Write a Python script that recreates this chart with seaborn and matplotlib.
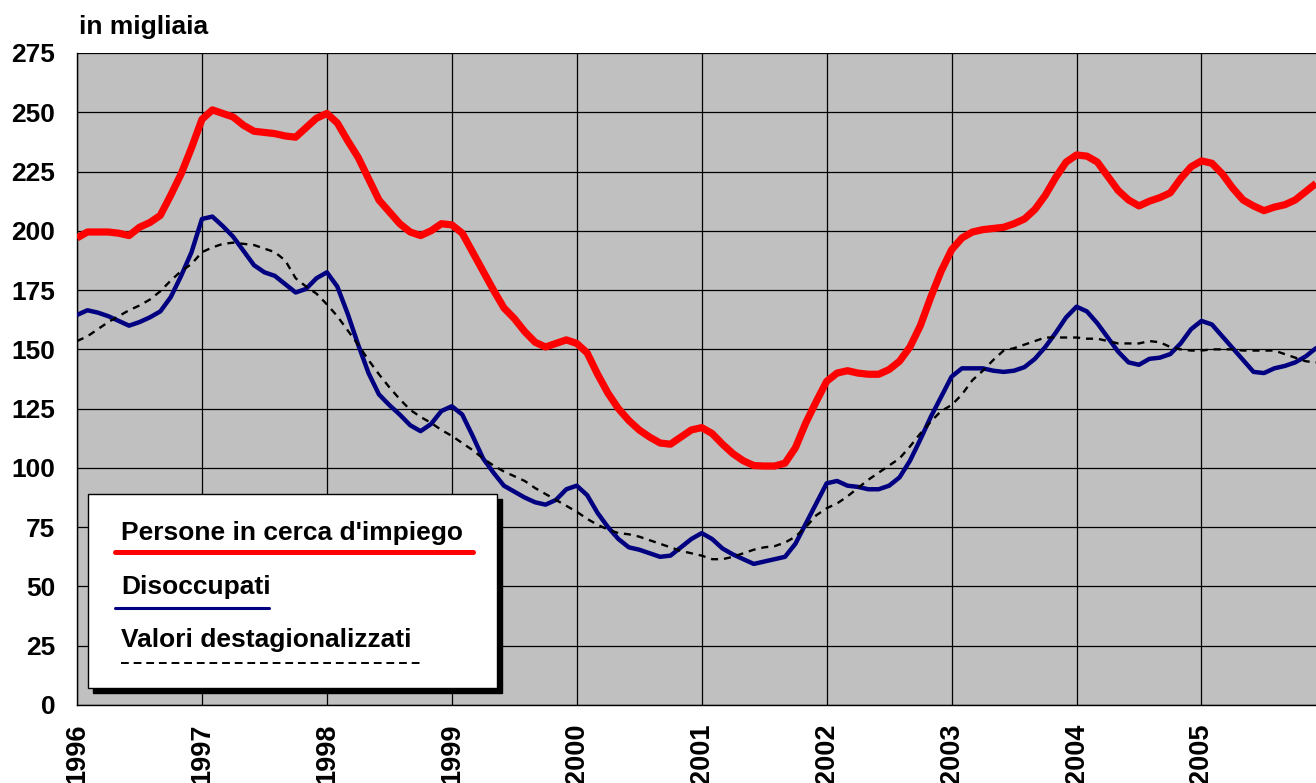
import numpy as np
import pandas as pd
import matplotlib
matplotlib.use("Agg")
import matplotlib.pyplot as plt
import seaborn as sns
from matplotlib.patches import Rectangle
from matplotlib.lines import Line2D

# ---------------- data (monthly, Jan 1996 - Dec 2005, thousands) ----------------
years = [1996, 1997, 1998, 1999, 2000, 2001, 2002, 2003, 2004, 2005]

persone = [
    197, 199.5, 199.5, 199.5, 199, 198, 201.5, 203.5, 206.5, 215, 224, 235,
    247, 251, 249.5, 248, 244.5, 242, 241.5, 241, 240, 239.5, 243.5, 247.5,
    249.5, 245.5, 238, 231, 222, 213, 208, 203, 199.5, 198, 200, 203,
    202.5, 199, 191, 183, 175, 167.5, 163, 157.5, 153, 151, 152.5, 154,
    152.5, 148.5, 139.5, 131.5, 125, 120, 116, 113, 110.5, 110, 113, 116,
    117, 114.5, 110, 106, 103, 101, 100.8, 100.8, 102, 108.5, 119, 128,
    136.5, 140, 141, 140, 139.5, 139.5, 141.5, 145, 151, 160, 172, 183,
    192, 197, 199.5, 200.5, 201, 201.5, 203, 205, 209, 215, 222.5, 229,
    232, 231.5, 229, 223, 217, 213, 210.5, 212.5, 214, 216, 222, 227,
    229.5, 228.5, 224, 218, 213, 210.5, 208.5, 210, 211, 213, 216.5, 220,
]

disoccupati = [
    164.5, 166.5, 165.5, 164, 162, 160, 161.5, 163.5, 166, 172, 181, 191,
    205, 206, 202, 197.5, 191.5, 185.5, 182.5, 181, 177.5, 174, 175.5, 180,
    182.5, 176.5, 165, 152, 140, 131, 126.5, 122.5, 118, 115.5, 118.5, 124,
    126, 122.5, 113.5, 104, 98, 92.5, 90, 87.5, 85.5, 84.5, 86.5, 91,
    92.5, 88.5, 81, 75, 70, 66.5, 65.5, 64, 62.5, 63, 66.5, 70,
    72.5, 70, 66, 63.5, 61.5, 59.5, 60.5, 61.5, 62.5, 68, 76.5, 85,
    93.5, 94.5, 92.5, 92, 91, 91, 92.5, 96, 103, 112, 121.5, 130,
    138.5, 142, 142, 142, 141, 140.5, 141, 142.5, 146, 151, 157, 163.5,
    168, 166, 161, 155, 149, 144.5, 143.5, 146, 146.5, 148, 152.5, 158.5,
    162, 160.5, 155.5, 150.5, 145.5, 140.5, 140, 142, 143, 144.5, 147, 150.5,
]

destagionalizzati = [
    153.5, 155.5, 158.5, 161.5, 164, 166.5, 168.5, 171, 174.5, 179, 183, 186,
    191, 193, 194.5, 195, 194.5, 194, 192.5, 191, 187.5, 180, 176.5, 173.5,
    169, 164, 158, 152, 145.5, 139.5, 134, 129, 124.5, 121.5, 119, 116,
    113.5, 110.5, 107.5, 104, 101, 98.5, 96.5, 94.5, 91.5, 89, 86.5, 84,
    81.5, 78.5, 76, 74, 72.5, 72, 71, 69.5, 68, 66.5, 65, 64,
    63, 61.5, 61.5, 62.5, 64, 65.5, 66.5, 67, 68.5, 71, 75, 80,
    83, 85, 88, 91.5, 95, 98, 101, 104, 109, 114.5, 119.5, 124,
    126.5, 131, 137, 141, 145.5, 149.5, 150.5, 152, 153.5, 155, 155, 155,
    155, 154.5, 154.5, 153.5, 152.5, 152.5, 152.5, 153.5, 153, 151, 150, 149.5,
    149.5, 150, 150, 150, 149.5, 149.5, 149.5, 149.5, 148, 146.5, 145, 144.5,
]

labels = ["Persone in cerca d'impiego", "Disoccupati", "Valori destagionalizzati"]
y_ticks = list(range(0, 276, 25))

# ---------------- figure ----------------
sns.set_style("white")
plt.rcParams['font.family'] = ['Liberation Sans', 'DejaVu Sans']
plt.rcParams['font.weight'] = 'bold'
plt.rcParams['text.color'] = 'black'
plt.rcParams['xtick.color'] = 'black'
plt.rcParams['ytick.color'] = 'black'

W, H = 1316, 783
fig = plt.figure(figsize=(W / 100, H / 100), dpi=100)


def fx(x):
    return x / W


def fy(y):
    return 1 - y / H


ax = fig.add_axes([fx(77), fy(705), fx(W) - fx(77), fy(53) - fy(705)])
ax.set_facecolor('#C0C0C0')

df = pd.DataFrame({
    'mese': np.arange(len(persone)),
    'persone': persone,
    'disoccupati': disoccupati,
    'destag': destagionalizzati,
})

sns.lineplot(data=df, x='mese', y='persone', ax=ax, color='#FF0000', lw=5.2,
             solid_joinstyle='round', solid_capstyle='butt', zorder=3)
sns.lineplot(data=df, x='mese', y='disoccupati', ax=ax, color='#000080', lw=3.2,
             solid_joinstyle='round', zorder=4)
sns.lineplot(data=df, x='mese', y='destag', ax=ax, color='black', lw=1.7,
             linestyle=(0, (3, 2.5)), zorder=5)

ax.set_xlim(0, len(persone) - 1)
ax.set_ylim(0, 275)
ax.set_xticks([12 * i for i in range(len(years))])
ax.set_xticklabels([str(y) for y in years], rotation=90, fontsize=19.5,
                   fontweight='bold', va='top', color='black')
ax.set_yticks(y_ticks)
ax.set_yticklabels([str(v) for v in y_ticks], fontsize=19, fontweight='bold',
                   color='black')
ax.set_xlabel('')
ax.set_ylabel('')

ax.grid(True, color='black', lw=0.9)
ax.set_axisbelow(True)
for s in ['top', 'right']:
    ax.spines[s].set_visible(False)
for s in ['left', 'bottom']:
    ax.spines[s].set_color('black')
    ax.spines[s].set_linewidth(1.0)
ax.tick_params(axis='both', direction='out', length=6.5, width=1, color='black',
               labelcolor='black')
ax.tick_params(axis='y', pad=9)
ax.tick_params(axis='x', pad=7)

fig.text(fx(79), fy(34), 'in migliaia', fontsize=19, fontweight='bold',
         ha='left', va='baseline', color='black')

# ---------------- legend box (drawn manually, as in the original) ----------------
bx0, by0, bx1, by1 = 88, 494, 497, 688
fig.add_artist(Rectangle((fx(bx0 + 5), fy(by1 + 5)), fx(bx1 - bx0), fy(by0) - fy(by1),
                         transform=fig.transFigure, facecolor='black',
                         edgecolor='black', zorder=10))
fig.add_artist(Rectangle((fx(bx0), fy(by1)), fx(bx1 - bx0), fy(by0) - fy(by1),
                         transform=fig.transFigure, facecolor='white',
                         edgecolor='black', lw=1, zorder=11))

fig.text(fx(121), fy(540), labels[0], fontsize=19, fontweight='bold',
         ha='left', va='baseline', zorder=12, color='black')
fig.add_artist(Line2D([fx(115), fx(473)], [fy(552), fy(552)], color='#FF0000',
                      lw=3.6, transform=fig.transFigure, zorder=12))
fig.text(fx(121), fy(594), labels[1], fontsize=19, fontweight='bold',
         ha='left', va='baseline', zorder=12, color='black')
fig.add_artist(Line2D([fx(115), fx(269)], [fy(608), fy(608)], color='#000080',
                      lw=2.2, transform=fig.transFigure, zorder=12))
fig.text(fx(121), fy(647), labels[2], fontsize=19, fontweight='bold',
         ha='left', va='baseline', zorder=12, color='black')
fig.add_artist(Line2D([fx(121), fx(424)], [fy(663), fy(663)], color='black',
                      lw=1.4, linestyle=(0, (4, 2.5)), transform=fig.transFigure,
                      zorder=12))

fig.savefig('out.png', dpi=100)
